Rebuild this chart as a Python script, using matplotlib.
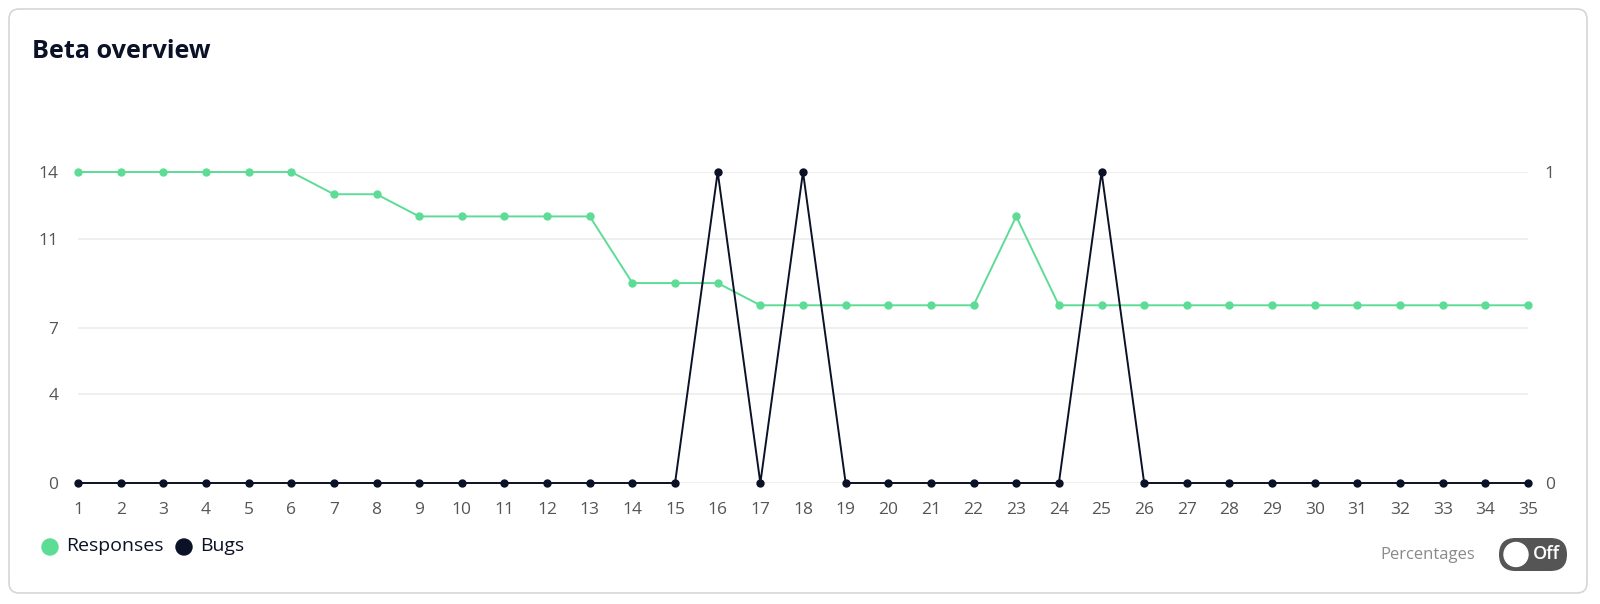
import numpy as np
import matplotlib.pyplot as plt
from matplotlib.patches import FancyBboxPatch, Circle

# ---------------- data ----------------
days = list(range(1, 36))
responses = [14, 14, 14, 14, 14, 14, 13, 13, 12, 12, 12, 12, 12, 9, 9, 9, 8, 8,
             8, 8, 8, 8, 12, 8, 8, 8, 8, 8, 8, 8, 8, 8, 8, 8, 8]
bugs = [0, 0, 0, 0, 0, 0, 0, 0, 0, 0, 0, 0, 0, 0, 0, 1, 0, 1,
        0, 0, 0, 0, 0, 0, 1, 0, 0, 0, 0, 0, 0, 0, 0, 0, 0]
left_ticks = [0, 4, 7, 11, 14]
right_ticks = [0, 1]
series_names = ["Responses", "Bugs"]

GREEN = "#5ddc96"
DARK = "#0b1126"
GRAY = "#555555"

plt.rcParams['font.family'] = ['Open Sans', 'DejaVu Sans']

W, H = 1600, 604
fig = plt.figure(figsize=(W / 100, H / 100), dpi=100)

# ---------------- card background (pixel coords) ----------------
bg = fig.add_axes([0, 0, 1, 1], zorder=0)
bg.set_xlim(0, W)
bg.set_ylim(H, 0)
bg.axis("off")

card = FancyBboxPatch((9, 9), 1578, 584, boxstyle="round,pad=0,rounding_size=10",
                      facecolor="white", edgecolor="#d6d6d6", linewidth=1.2)
bg.add_patch(card)
bg.text(32, 52, "Beta overview", fontsize=18.2, fontweight="bold", color=DARK,
        va="center", ha="left")

# legend
bg.add_patch(Circle((50, 547), 8, color=GREEN))
bg.text(66, 546, series_names[0], fontsize=14, color=DARK, va="center")
bg.add_patch(Circle((184, 547), 8, color=DARK))
bg.text(200, 546, series_names[1], fontsize=14, color=DARK, va="center")

# percentages toggle
bg.text(1475, 555, "Percentages", fontsize=12, color="#8a8a8a", va="center", ha="right")
toggle = FancyBboxPatch((1499, 538), 68, 33, boxstyle="round,pad=0,rounding_size=16.5",
                        facecolor="#555555", edgecolor="none")
bg.add_patch(toggle)
bg.add_patch(Circle((1516, 554.5), 12, color="white"))
bg.text(1546, 554, "Off", fontsize=13, fontweight="semibold", color="white",
        va="center", ha="center")

# ---------------- chart ----------------
left, right = 78 / W, 1528 / W
bottom, top = (H - 483) / H, (H - 172) / H
ax1 = fig.add_axes([left, bottom, right - left, top - bottom], zorder=2)
ax1.patch.set_alpha(0)
ax1.set_xlim(1, 35)
ax1.set_ylim(0, 14)
ax1.set_yticks(left_ticks)
ax1.set_xticks(days)
ax1.grid(axis="y", color="#ececec", linewidth=1.2)
ax1.set_axisbelow(True)
for s in ax1.spines.values():
    s.set_visible(False)
ax1.tick_params(axis="both", length=0, labelsize=12.5, labelcolor=GRAY)
ax1.tick_params(axis="y", pad=14)
ax1.tick_params(axis="x", pad=14)

ax1.plot(days, responses, color=GREEN, linewidth=1.4, marker="o", markersize=5,
         clip_on=False, zorder=3)

ax2 = ax1.twinx()
ax2.set_ylim(0, 1)
ax2.set_yticks(right_ticks)
for s in ax2.spines.values():
    s.set_visible(False)
ax2.tick_params(axis="y", length=0, labelsize=12.5, labelcolor=GRAY, pad=12)
ax2.plot(days, bugs, color=DARK, linewidth=1.4, marker="o", markersize=5,
         clip_on=False, zorder=4)

fig.savefig("out.png", dpi=100)
